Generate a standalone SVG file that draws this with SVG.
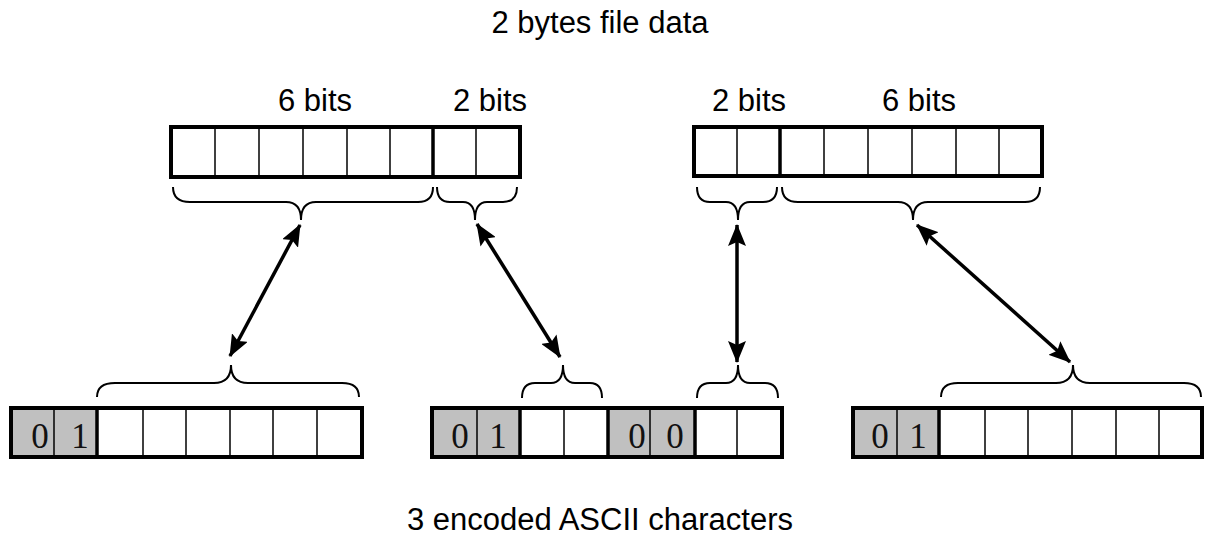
<svg xmlns="http://www.w3.org/2000/svg" width="1211" height="554" viewBox="0 0 1211 554">
<style>
.lbl{font-family:"Liberation Sans",Arial,sans-serif;font-size:31px;fill:#000}
.dig{font-family:"Liberation Serif","Times New Roman",serif;font-size:35px;fill:#111;text-anchor:middle}
.out{fill:none;stroke:#000;stroke-width:4}
.thin{stroke:#000;stroke-width:1.5}
.thick{stroke:#000;stroke-width:3.5}
.gray{fill:#c0c0c0}
.brace{fill:none;stroke:#000;stroke-width:2}
.arr{stroke:#000;stroke-width:3.5;fill:none;marker-start:url(#ah);marker-end:url(#ah)}
</style>
<defs>
<marker id="ah" markerUnits="userSpaceOnUse" markerWidth="22" markerHeight="18" viewBox="0 0 22 18" refX="21" refY="9" orient="auto-start-reverse">
<path d="M0,0 L22,9 L0,18 L4,9 Z" fill="#000"/>
</marker>
</defs>
<rect width="1211" height="554" fill="#fff"/>
<text class="lbl" x="600" y="33" text-anchor="middle">2 bytes file data</text>
<text class="lbl" x="600" y="530" text-anchor="middle">3 encoded ASCII characters</text>

<g id="byte1">
<rect x="171" y="127" width="349" height="50" fill="#fff"/>
<g class="thin"><line x1="215" y1="127" x2="215" y2="177"/><line x1="259" y1="127" x2="259" y2="177"/><line x1="303" y1="127" x2="303" y2="177"/><line x1="347" y1="127" x2="347" y2="177"/><line x1="390" y1="127" x2="390" y2="177"/><line x1="476" y1="127" x2="476" y2="177"/></g>
<line class="thick" x1="433" y1="127" x2="433" y2="177"/>
<rect class="out" x="171" y="127" width="349" height="50"/>
<text class="lbl" x="278" y="111">6 bits</text>
<text class="lbl" x="453" y="111">2 bits</text>
<path class="brace" d="M173,187 Q173,202 190,202 H286 Q301,202 301,220 Q301,202 316,202 H418 Q433,202 433,187"/>
<path class="brace" d="M437,187 Q437,202 450,202 H463 Q475,202 475,220 Q475,202 487,202 H503 Q517,202 517,187"/>
</g>

<g id="byte2">
<rect x="694" y="127" width="348" height="49" fill="#fff"/>
<g class="thin"><line x1="737" y1="127" x2="737" y2="176"/><line x1="824" y1="127" x2="824" y2="176"/><line x1="868" y1="127" x2="868" y2="176"/><line x1="912" y1="127" x2="912" y2="176"/><line x1="956" y1="127" x2="956" y2="176"/><line x1="999" y1="127" x2="999" y2="176"/></g>
<line class="thick" x1="780" y1="127" x2="780" y2="176"/>
<rect class="out" x="694" y="127" width="348" height="49"/>
<text class="lbl" x="712" y="111">2 bits</text>
<text class="lbl" x="882" y="111">6 bits</text>
<path class="brace" d="M697,187 Q697,202 710,202 H726 Q738,202 738,220 Q738,202 750,202 H763 Q777,202 777,187"/>
<path class="brace" d="M782,187 Q782,202 798,202 H898 Q913,202 913,220 Q913,202 928,202 H1025 Q1040,202 1040,187"/>
</g>

<g id="char1">
<rect class="gray" x="11" y="408" width="86" height="49"/>
<rect x="97" y="408" width="265" height="49" fill="#fff"/>
<g class="thin"><line x1="54" y1="408" x2="54" y2="457"/><line x1="143" y1="408" x2="143" y2="457"/><line x1="186" y1="408" x2="186" y2="457"/><line x1="230" y1="408" x2="230" y2="457"/><line x1="273" y1="408" x2="273" y2="457"/><line x1="317" y1="408" x2="317" y2="457"/></g>
<line class="thick" x1="97" y1="408" x2="97" y2="457"/>
<rect class="out" x="11" y="408" width="351" height="49"/>
<text class="dig" x="40" y="448">0</text>
<text class="dig" x="80" y="448">1</text>
<path class="brace" d="M97,397 Q97,383 115,383 H214 Q231,383 231,365 Q231,383 248,383 H342 Q359,383 359,397"/>
</g>

<g id="char2">
<rect class="gray" x="432" y="408" width="88" height="49"/>
<rect x="520" y="408" width="88" height="49" fill="#fff"/>
<rect class="gray" x="608" y="408" width="87" height="49"/>
<rect x="695" y="408" width="87" height="49" fill="#fff"/>
<g class="thin"><line x1="477" y1="408" x2="477" y2="457"/><line x1="564" y1="408" x2="564" y2="457"/><line x1="650" y1="408" x2="650" y2="457"/><line x1="737" y1="408" x2="737" y2="457"/></g>
<g class="thick"><line x1="520" y1="408" x2="520" y2="457"/><line x1="608" y1="408" x2="608" y2="457"/><line x1="695" y1="408" x2="695" y2="457"/></g>
<rect class="out" x="432" y="408" width="350" height="49"/>
<text class="dig" x="460" y="448">0</text>
<text class="dig" x="498" y="448">1</text>
<text class="dig" x="637" y="448">0</text>
<text class="dig" x="675" y="448">0</text>
<path class="brace" d="M522,398 Q522,383 535,383 H551 Q563,383 563,365 Q563,383 575,383 H590 Q602,383 602,398"/>
<path class="brace" d="M697,398 Q697,383 710,383 H726 Q738,383 738,365 Q738,383 750,383 H765 Q778,383 778,398"/>
</g>

<g id="char3">
<rect class="gray" x="853" y="408" width="86" height="49"/>
<rect x="939" y="408" width="263" height="49" fill="#fff"/>
<g class="thin"><line x1="897" y1="408" x2="897" y2="457"/><line x1="985" y1="408" x2="985" y2="457"/><line x1="1028" y1="408" x2="1028" y2="457"/><line x1="1072" y1="408" x2="1072" y2="457"/><line x1="1116" y1="408" x2="1116" y2="457"/><line x1="1159" y1="408" x2="1159" y2="457"/></g>
<line class="thick" x1="939" y1="408" x2="939" y2="457"/>
<rect class="out" x="853" y="408" width="349" height="49"/>
<text class="dig" x="880" y="448">0</text>
<text class="dig" x="918" y="448">1</text>
<path class="brace" d="M941,397 Q941,383 958,383 H1056 Q1073,383 1073,365 Q1073,383 1090,383 H1184 Q1201,383 1201,397"/>
</g>

<g id="connectors">
<line class="arr" x1="300" y1="225" x2="230" y2="356"/>
<line class="arr" x1="477" y1="224" x2="560" y2="357"/>
<line class="arr" x1="737" y1="225" x2="737" y2="362"/>
<line class="arr" x1="917" y1="225" x2="1070" y2="362"/>
</g>
</svg>
